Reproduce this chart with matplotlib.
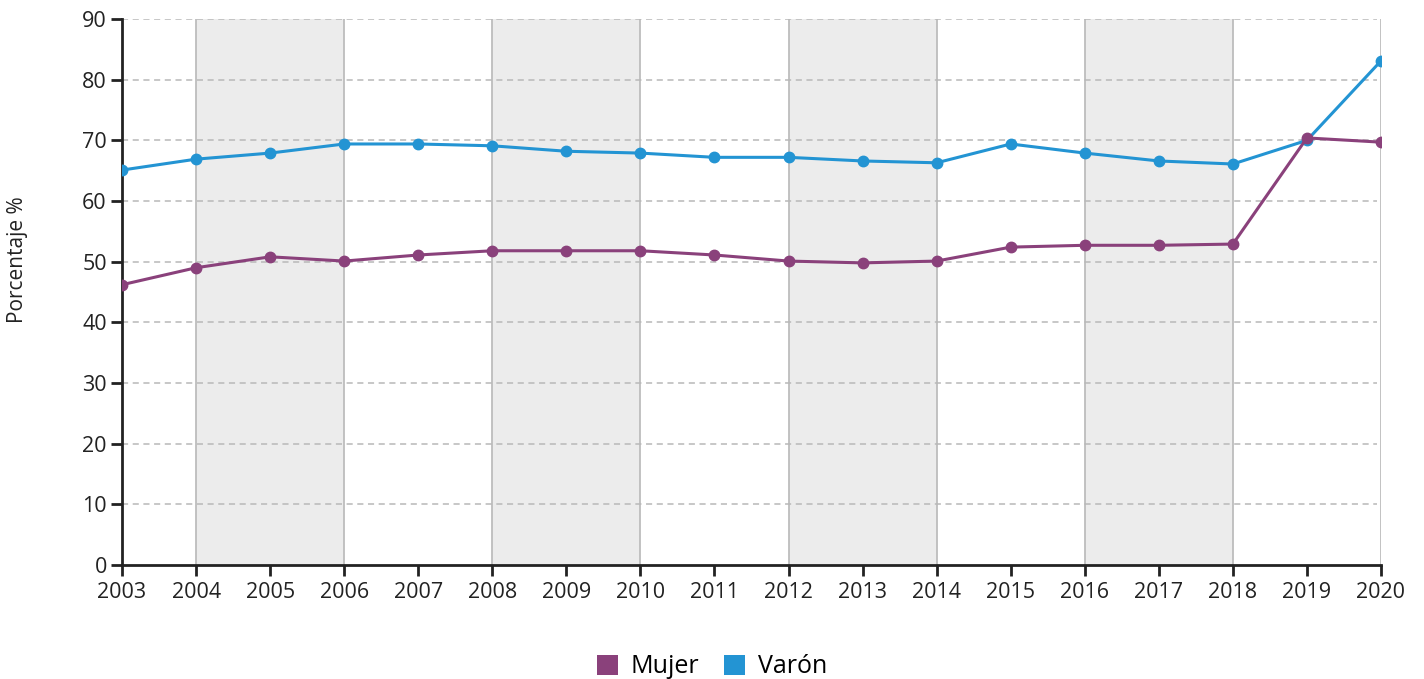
import matplotlib
matplotlib.use("Agg")
import matplotlib.pyplot as plt
from matplotlib.patches import Patch

years = list(range(2003, 2021))
mujer = [46.2, 49.0, 50.8, 50.1, 51.1, 51.8, 51.8, 51.8, 51.1, 50.1, 49.8, 50.1, 52.4, 52.7, 52.7, 52.9, 70.4, 69.7]
varon = [65.1, 66.9, 67.9, 69.4, 69.4, 69.1, 68.2, 67.9, 67.2, 67.2, 66.6, 66.3, 69.4, 67.9, 66.6, 66.1, 70.0, 83.1]
bands = [(2004, 2006), (2008, 2010), (2012, 2014), (2016, 2018)]
vlines = [2004, 2006, 2008, 2010, 2012, 2014, 2016, 2018, 2020]
yticks = list(range(0, 91, 10))

c_mujer = "#8a417b"
c_varon = "#2394d3"

plt.rcParams['font.family'] = ['Open Sans', 'DejaVu Sans']

fig = plt.figure(figsize=(14.24, 6.79), dpi=100)
ax = fig.add_axes([0.0857, 0.1679, 0.9698 - 0.0857, 0.972 - 0.1679])

for a, b in bands:
    ax.axvspan(a, b, color="#ececec", zorder=0, lw=0)
for v in vlines:
    ax.axvline(v, color="#bdbdbd", lw=1.3, zorder=1)
for y in yticks[1:]:
    ax.plot([2003, 2019.95], [y, y], color="#b8b8b8", lw=1.1, ls=(0, (4, 3)), zorder=1)

ax.plot(years, varon, color=c_varon, lw=2.2, marker='o', ms=7.5, zorder=3)
ax.plot(years, mujer, color=c_mujer, lw=2.2, marker='o', ms=7.5, zorder=4)

ax.set_xlim(2003, 2020)
ax.set_ylim(0, 90)
ax.set_xticks(years)
ax.set_yticks(yticks)
ax.tick_params(axis='both', labelsize=15.5, colors="#222222", length=8, width=2, direction='out')
ax.tick_params(axis='x', pad=4)
ax.tick_params(axis='y', pad=3)
for s in ['top', 'right']:
    ax.spines[s].set_visible(False)
for s in ['left', 'bottom']:
    ax.spines[s].set_linewidth(2)
    ax.spines[s].set_color("#222222")
ax.set_ylabel("Porcentaje %", fontsize=15, color="#222222")
ax.yaxis.set_label_coords(-0.075, 0.56)
for t in ax.get_yticklabels() + ax.get_xticklabels():
    t.set_clip_on(False)

handles = [Patch(facecolor=c_mujer, label="Mujer"), Patch(facecolor=c_varon, label="Varón")]
fig.legend(handles=handles, loc='center', bbox_to_anchor=(0.5, 0.018), ncol=2, frameon=False,
           fontsize=18, handlelength=0.85, handleheight=0.85, handletextpad=0.5, columnspacing=1.0)

fig.savefig("out.png", dpi=100)
